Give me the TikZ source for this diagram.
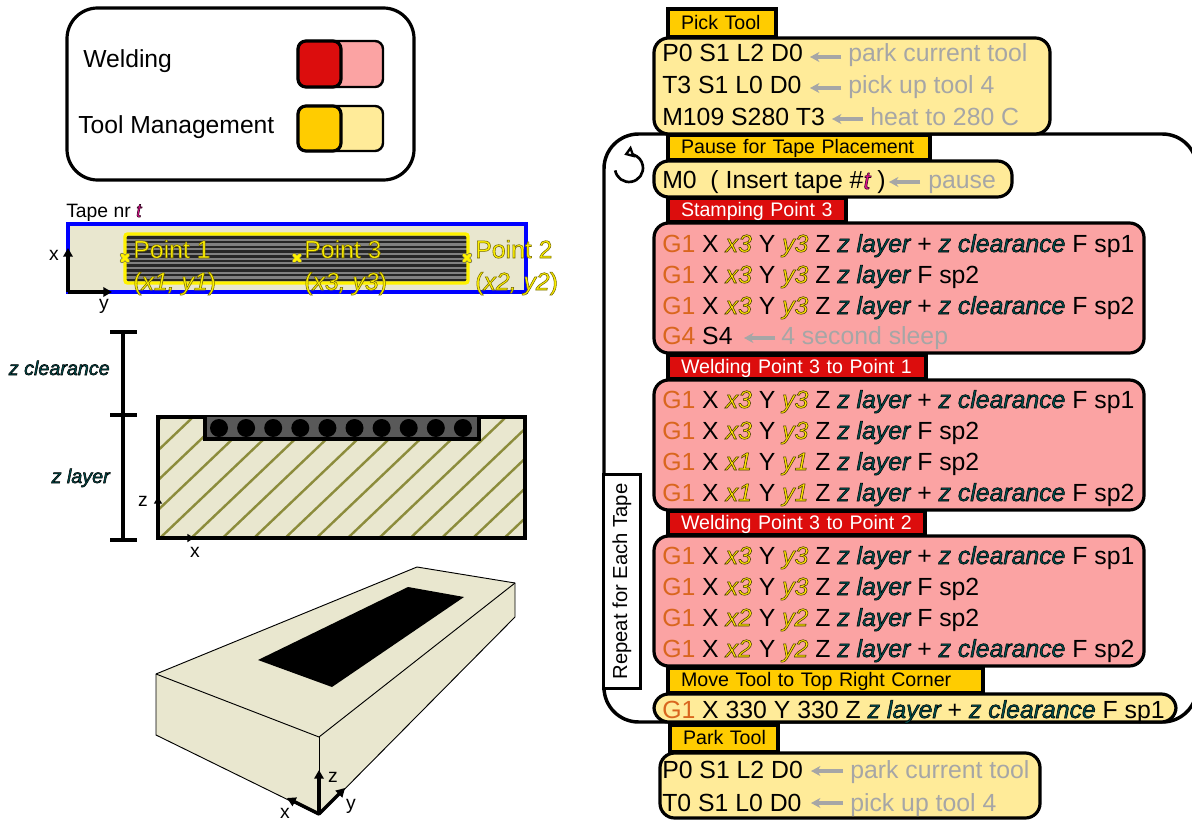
\documentclass[tikz,border=0pt]{standalone}
\usepackage{fontspec}
\setmainfont{Liberation Sans}
\usetikzlibrary{arrows.meta}
\definecolor{tabY}{HTML}{FFCC00}
\definecolor{bodyY}{HTML}{FFEB99}
\definecolor{tabR}{HTML}{DC0D0D}
\definecolor{bodyR}{HTML}{FBA3A3}
\definecolor{noteG}{HTML}{A6A6A6}
\definecolor{gOr}{HTML}{D9661E}
\definecolor{cream}{HTML}{E9E7CF}
\definecolor{hatchC}{HTML}{8C8C3C}
\definecolor{zT}{HTML}{00504F}
\definecolor{yT}{HTML}{FFE600}
\definecolor{tT}{HTML}{E0108C}
\newcommand{\olt}[3]{{\color{#1}\special{pdf:code #2 RG 2 Tr 0.4 w}#3\special{pdf:code 0 Tr}}}
\newcommand{\vx}[1]{\olt{yT}{0.25 0.2 0 }{\itshape #1}}
\newcommand{\vz}[1]{\olt{zT}{0 0 0 }{\itshape #1}}
\newcommand{\vtt}{\olt{tT}{0.15 0 0.1 }{\itshape t}}
\newcommand{\gcode}[1]{\textcolor{gOr}{#1}}
\newcommand{\plab}[1]{\olt{yellow}{0.45 0.4 0 }{#1}}
\tikzset{
 x=.75pt,y=-.75pt,
 txt/.style={anchor=base west,inner sep=0pt,font=\fontsize{18.6}{19}\selectfont},
 note/.style={txt,text=noteG},
 tabtxt/.style={font=\fontsize{14.7}{15}\selectfont},
 tabbox/.style={draw=black,line width=2.4pt,outer sep=0pt,anchor=north west,inner ysep=0pt,inner xsep=0pt,align=left,text height=11.3pt,text depth=2.2pt,tabtxt},
 bodybox/.style={draw=black,line width=2.4pt,outer sep=0pt,rounded corners=11pt,anchor=north west,inner sep=0pt},
 narrow/.style={draw=noteG,line width=2.6pt,-{Stealth[length=7pt,width=7.5pt,inset=2pt]}},
 axisar/.style={draw=black,line width=2.6pt,-{Triangle[length=6.5pt,width=7pt]}},
 axlab/.style={inner sep=0pt,font=\fontsize{14.5}{15}\selectfont},
 ptlab/.style={inner sep=0pt,anchor=base west,font=\fontsize{18.6}{19}\selectfont},
 dimbar/.style={draw=black,line width=2.6pt},
 legtxt/.style={inner sep=0pt,anchor=base west,font=\fontsize{18.5}{19}\selectfont},
 crossu/.style={draw=black!60!yellow,line width=3.2pt,line cap=round},
 crossm/.style={draw=yellow,line width=2.2pt,line cap=round},
}
\newcommand{\tabb}[8]{\pgfmathsetmacro\wid{(#4-#2)*.75}\pgfmathsetmacro\hei{(#5-#3)*.75}%
 \node[tabbox,fill=#6,text=#7,minimum width=\wid pt,minimum height=\hei pt,text width=\wid pt] (#1) at (#2,#3) {\hspace*{9.8pt}#8};}
\newcommand{\bodyb}[6]{\pgfmathsetmacro\wid{(#4-#2)*.75}\pgfmathsetmacro\hei{(#5-#3)*.75}%
 \node[bodybox,fill=#6,minimum width=\wid pt,minimum height=\hei pt] (#1) at (#2,#3) {};}
\begin{document}
\begin{tikzpicture}
\useasboundingbox (0,0) rectangle (1192,820);
\clip (0,0) rectangle (1192,820);
% legend
\draw[black,line width=2.4pt,rounded corners=23pt,fill=white] (67,8) rectangle (414,180);
\node[legtxt] (lw) at (83,68) {Welding};
\node[legtxt] (lt) at (78,134) {Tool Management};
\draw[black,line width=1.8pt,fill=bodyR,rounded corners=6pt] (298,41) rectangle (383,87);
\draw[black,line width=2.4pt,fill=tabR,rounded corners=6pt] (298,41) rectangle (341,87);
\draw[black,line width=1.8pt,fill=bodyY,rounded corners=6pt] (298,106) rectangle (383,151);
\draw[black,line width=2.4pt,fill=tabY,rounded corners=6pt] (298,106) rectangle (341,151);
% tape top view
\node[inner sep=0pt,anchor=base west,font=\fontsize{14.5}{15}\selectfont] (tn) at (66,217) {Tape nr \vtt};
\draw[blue,line width=2.6pt,fill=cream] (68,224) rectangle (526,292);
\fill[black!50] (125,234) rectangle (468,283);
\foreach \yy in {237.5,242.2,...,282} \draw[black!85,line width=1.9pt] (125,\yy) -- (468,\yy);
\draw[yellow,line width=2.6pt,rounded corners=2pt] (125,234) rectangle (468,283);
\foreach \xx in {125,297,467} {\draw[crossu] (\xx-3,255) -- (\xx+3,261); \draw[crossu] (\xx-3,261) -- (\xx+3,255);
 \draw[crossm] (\xx-3,255) -- (\xx+3,261); \draw[crossm] (\xx-3,261) -- (\xx+3,255);}
\node[ptlab] at (133,258) {\plab{Point 1}};
\node[ptlab] at (304,258) {\plab{Point 3}};
\node[ptlab] at (475,258) {\plab{Point 2}};
\node[ptlab] at (133,290) {\plab{(\itshape x1, y1\upshape)}};
\node[ptlab] at (304,290) {\plab{(\itshape x3, y3\upshape)}};
\node[ptlab] at (475,290) {\plab{(\itshape x2, y2\upshape)}};
\draw[axisar] (68,292) -- (68,248);
\draw[axisar] (68,292) -- (112,292);
\node[axlab] at (54,255) {x};
\node[axlab] at (104,306) {y};
% dimension bars
\draw[dimbar] (123,332) -- (123,540);
\foreach \yy in {332,415,540} \draw[dimbar] (110,\yy) -- (137,\yy);
\node[axlab,font=\fontsize{14.8}{15}\selectfont,anchor=base east] at (110,375) {\vz{z clearance}};
\node[axlab,font=\fontsize{14.8}{15}\selectfont,anchor=base east] at (110,483) {\vz{z layer}};
% section
\fill[cream] (158,417) rectangle (525,538);
\begin{scope}
\clip (158,417) rectangle (525,538);
\foreach \k in {-5,...,13} \draw[hatchC,line width=1.8pt] ({160+31.3*\k},538) -- ({160+31.3*\k+127},417);
\end{scope}
\draw[black,line width=2.5pt] (158,417) rectangle (525,538);
\draw[black,line width=2.5pt,fill=black!65] (205,417) -- (205,439) -- (479,439) -- (479,417);
\foreach \k in {0,...,9} \fill[black] ({219+27.1*\k},428) circle[radius=9];
\draw[axisar,-{Triangle[length=5pt,width=6pt]}] (158,538) -- (158,497);
\draw[axisar,-{Triangle[length=5pt,width=6pt]}] (158,538) -- (194,538);
\node[axlab] at (143,501) {z};
\node[axlab] at (195,552) {x};
% 3D block
\draw[black,line width=.7pt,fill=cream] (156,674) -- (417,567) -- (515,583) -- (515,617) -- (319,815) -- (156,735) -- cycle;
\draw[black,line width=.7pt] (156,674) -- (319,737) -- (515,583);
\draw[black,line width=.7pt] (319,737) -- (319,815);
\fill[black] (408,587) -- (464,597) -- (332,687) -- (258,660) -- cycle;
\draw[axisar,line join=round] (319,814) -- (319,770);
\draw[axisar] (319,814) -- (287,798);
\draw[axisar] (319,814) -- (345,788);
\node[axlab] at (333,777) {z};
\node[axlab] at (351,806) {y};
\node[axlab] at (285,813) {x};
% loop
\draw[black,line width=2.6pt,rounded corners=26pt,fill=white] (604,134) rectangle (1197,722);
\node[draw=black,line width=2.4pt,outer sep=0pt,fill=white,rotate=90,inner sep=0pt,minimum width=160pt,minimum height=27.75pt,font=\fontsize{15.2}{16}\selectfont] (rep) at (622,581.5) {Repeat for Each Tape};
\draw[black,line width=2pt,-{Triangle[open,fill=white,length=7pt,width=9pt]}] (615.2,170.4) arc[start angle=170,end angle=-110,radius=14];
% pick tool
\tabb{t1}{668}{9}{776}{37}{tabY}{black}{Pick Tool}
\bodyb{b1}{654}{38}{1050}{134}{bodyY}
\node[txt] (l1) at (662,62) {P0 S1 L2 D0};
\node[txt] (l2) at (662,94) {T3 S1 L0 D0};
\node[txt] (l3) at (662,126) {M109 S280 T3};
\node[note] at (848,62) {park current tool};
\node[note] at (848,94) {pick up tool 4};
\node[note] at (870,126) {heat to 280 C};
\draw[narrow] (841,57) -- (810,57);
\draw[narrow] (841,88) -- (810,88);
\draw[narrow] (863,119) -- (832,119);
% pause
\tabb{t2}{668}{135}{930}{160}{tabY}{black}{Pause for Tape Placement}
\bodyb{b2}{654}{161}{1012}{197}{bodyY}
\node[txt] at (662,189) {M0\ \ ( Insert tape \#\vtt\ )};
\node[note] at (928,189) {pause};
\draw[narrow] (920,182) -- (889,182);
% stamping
\tabb{t3}{668}{198}{846}{222}{tabR}{white}{Stamping Point 3}
\bodyb{b3}{654}{223}{1144}{353}{bodyR}
\node[txt] at (662,252) {\gcode{G1} X \vx{x3} Y \vx{y3} Z \vz{z layer} + \vz{z clearance} F sp1};
\node[txt] at (662,283) {\gcode{G1} X \vx{x3} Y \vx{y3} Z \vz{z layer} F sp2};
\node[txt] at (662,314) {\gcode{G1} X \vx{x3} Y \vx{y3} Z \vz{z layer} + \vz{z clearance} F sp2};
\node[txt] at (662,344) {\gcode{G4} S4};
\node[note] at (781,344) {4 second sleep};
\draw[narrow] (775,338) -- (744,338);
% welding 1
\tabb{t4}{668}{355}{926}{379}{tabR}{white}{Welding Point 3 to Point 1}
\bodyb{b4}{654}{380}{1144}{510}{bodyR}
\node[txt] at (662,408) {\gcode{G1} X \vx{x3} Y \vx{y3} Z \vz{z layer} + \vz{z clearance} F sp1};
\node[txt] at (662,439) {\gcode{G1} X \vx{x3} Y \vx{y3} Z \vz{z layer} F sp2};
\node[txt] at (662,470) {\gcode{G1} X \vx{x1} Y \vx{y1} Z \vz{z layer} F sp2};
\node[txt] at (662,501) {\gcode{G1} X \vx{x1} Y \vx{y1} Z \vz{z layer} + \vz{z clearance} F sp2};
% welding 2
\tabb{t5}{668}{511}{925}{535}{tabR}{white}{Welding Point 3 to Point 2}
\bodyb{b5}{654}{536}{1144}{666}{bodyR}
\node[txt] at (662,564) {\gcode{G1} X \vx{x3} Y \vx{y3} Z \vz{z layer} + \vz{z clearance} F sp1};
\node[txt] at (662,595) {\gcode{G1} X \vx{x3} Y \vx{y3} Z \vz{z layer} F sp2};
\node[txt] at (662,626) {\gcode{G1} X \vx{x2} Y \vx{y2} Z \vz{z layer} F sp2};
\node[txt] at (662,657) {\gcode{G1} X \vx{x2} Y \vx{y2} Z \vz{z layer} + \vz{z clearance} F sp2};
% move
\tabb{t6}{668}{668}{983}{693}{tabY}{black}{Move Tool to Top Right Corner}
\bodyb{b6}{654}{694}{1176}{722}{bodyY}
\node[txt] at (662,718) {\gcode{G1} X 330 Y 330 Z \vz{z layer} + \vz{z clearance} F sp1};
% park
\tabb{t7}{670}{725}{778}{752}{tabY}{black}{Park Tool}
\bodyb{b7}{660}{753}{1040}{818}{bodyY}
\node[txt] at (662,778) {P0 S1 L2 D0};
\node[txt] at (662,811) {T0 S1 L0 D0};
\node[note] at (850,778) {park current tool};
\node[note] at (850,811) {pick up tool 4};
\draw[narrow] (843,771) -- (811,771);
\draw[narrow] (843,803) -- (811,803);
\end{tikzpicture}
\end{document}
